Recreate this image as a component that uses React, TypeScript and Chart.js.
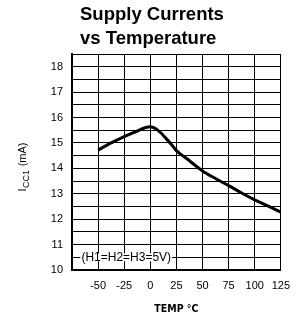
import React, { useEffect, useRef } from "react";
import { Chart, registerables } from "chart.js";

Chart.register(...registerables);

const TITLE_LINES = ["Supply Currents", "vs Temperature"];
const X_TITLE = "TEMP °C";
const Y_TITLE_MAIN = "I";
const Y_TITLE_SUB = "CC1";
const Y_TITLE_REST = " (mA)";
const NOTE = "(H1=H2=H3=5V)";

const temps = [-50, -37.5, -25, -12.5, -5, 0, 5, 10, 15, 20, 25, 37.5, 50, 62.5, 75, 87.5, 100, 112.5, 125];
const icc = [14.72, 15.0, 15.25, 15.47, 15.6, 15.64, 15.57, 15.4, 15.18, 14.95, 14.7, 14.3, 13.9, 13.6, 13.32, 13.03, 12.76, 12.52, 12.28];

const X_MIN = -75;
const X_MAX = 125;
const X_STEP = 25;
const Y_MIN = 10;
const Y_MAX = 18.5;
const Y_STEP = 0.5;
const NOTE_X = -66;
const NOTE_Y = 10.5;

const FONT = "'Liberation Sans', Arial, sans-serif";

export default function App() {
  const ref = useRef<HTMLCanvasElement | null>(null);

  useEffect(() => {
    if (!ref.current) return;

    const extras = {
      id: "extras",
      afterDatasetsDraw(chart: any) {
        const { ctx, chartArea, scales } = chart;
        const x = scales.x;
        const y = scales.y;

        // title, left aligned
        ctx.save();
        ctx.font = `bold 18.5px ${FONT}`;
        ctx.fillStyle = "#000";
        ctx.textAlign = "left";
        ctx.textBaseline = "alphabetic";
        TITLE_LINES.forEach((line, i) => {
          ctx.fillText(line, chartArea.left + 8, chartArea.top - 34 + i * 24);
        });
        ctx.restore();

        // note with white background
        ctx.save();
        ctx.font = `12px ${FONT}`;
        ctx.textBaseline = "middle";
        ctx.textAlign = "left";
        const px = x.getPixelForValue(NOTE_X);
        const py = y.getPixelForValue(NOTE_Y);
        const w = ctx.measureText(NOTE).width;
        ctx.fillStyle = "#fff";
        ctx.fillRect(px - 1, py - 4, w + 2, 8);
        ctx.fillStyle = "#000";
        ctx.fillText(NOTE, px, py + 0.5);
        ctx.restore();

        // y-axis title with subscript
        ctx.save();
        const cx = chartArea.left - 50;
        const cy = (chartArea.top + chartArea.bottom) / 2 + 5;
        ctx.translate(cx, cy);
        ctx.rotate(-Math.PI / 2);
        ctx.fillStyle = "#000";
        ctx.textBaseline = "alphabetic";
        ctx.textAlign = "left";
        const mainFont = `11px ${FONT}`;
        const subFont = `9px ${FONT}`;
        ctx.font = mainFont;
        const w1 = ctx.measureText(Y_TITLE_MAIN).width;
        const w3 = ctx.measureText(Y_TITLE_REST).width;
        ctx.font = subFont;
        const w2 = ctx.measureText(Y_TITLE_SUB).width;
        const total = w1 + w2 + w3 + 1;
        let sx = -total / 2;
        ctx.font = mainFont;
        ctx.fillText(Y_TITLE_MAIN, sx, 4);
        sx += w1 + 0.5;
        ctx.font = subFont;
        ctx.fillText(Y_TITLE_SUB, sx, 6.5);
        sx += w2 + 0.5;
        ctx.font = mainFont;
        ctx.fillText(Y_TITLE_REST, sx, 4);
        ctx.restore();
      },
    };

    const chart = new Chart(ref.current, {
      type: "line",
      data: {
        datasets: [
          {
            data: temps.map((t, i) => ({ x: t, y: icc[i] })),
            borderColor: "#000",
            borderWidth: 3,
            pointRadius: 0,
            cubicInterpolationMode: "monotone",
            fill: false,
          },
        ],
      },
      options: {
        animation: false,
        responsive: false,
        layout: { padding: { left: 12, right: 12, top: 54, bottom: 0 } },
        plugins: {
          legend: { display: false },
          tooltip: { enabled: false },
          title: { display: false },
        },
        scales: {
          x: {
            type: "linear",
            min: X_MIN,
            max: X_MAX,
            afterFit: (s: any) => {
              s.height = 53;
            },
            ticks: {
              stepSize: X_STEP,
              color: "#000",
              font: { family: FONT, size: 11 },
              padding: 9,
              maxRotation: 0,
              callback: (v: any) => (Number(v) === X_MIN ? "" : String(v)),
            },
            grid: { color: "#000", lineWidth: 1, drawTicks: false },
            border: { display: true, color: "#000", width: 2 },
            title: {
              display: true,
              text: X_TITLE,
              color: "#000",
              font: { family: "'DejaVu Sans Condensed', 'DejaVu Sans', sans-serif", size: 10.5, weight: "bold" },
              padding: { top: 0, bottom: 7 },
            },
          },
          y: {
            type: "linear",
            min: Y_MIN,
            max: Y_MAX,
            afterFit: (s: any) => {
              s.width = 60;
            },
            ticks: {
              stepSize: Y_STEP,
              color: "#000",
              font: { family: FONT, size: 11 },
              padding: 9,
              autoSkip: false,
              callback: (v: any) => (Number.isInteger(Number(v)) ? String(v) : ""),
            },
            grid: { color: "#000", lineWidth: 1, drawTicks: false },
            border: { display: true, color: "#000", width: 2 },
          },
        },
      },
      plugins: [extras],
    });

    return () => chart.destroy();
  }, []);

  return (
    <div style={{ position: "absolute", left: 0, top: 0, width: 299, height: 323, background: "#fff" }}>
      <canvas ref={ref} width={299} height={323} style={{ width: 299, height: 323, display: "block" }} />
    </div>
  );
}
